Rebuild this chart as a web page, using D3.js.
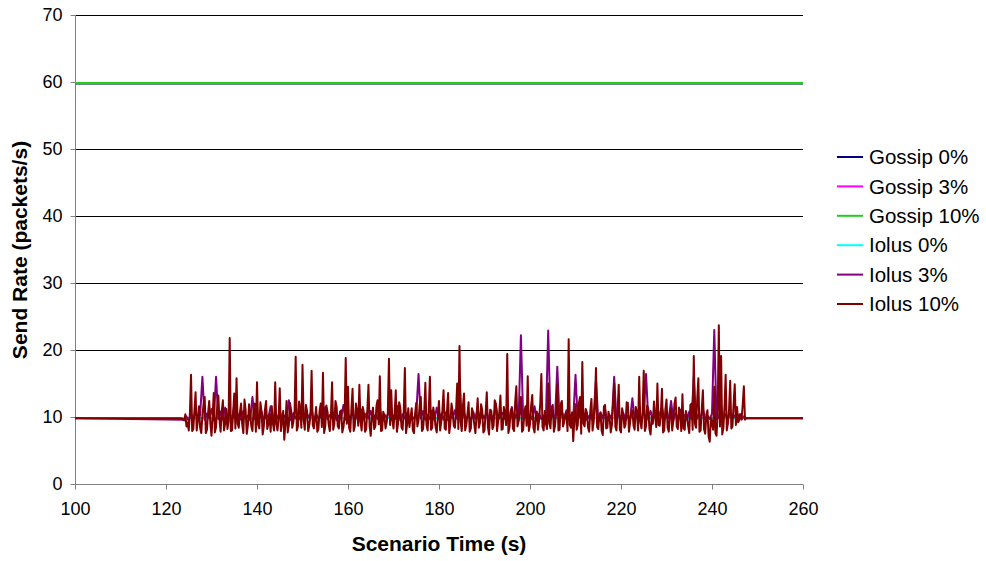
<!DOCTYPE html>
<html>
<head>
<meta charset="utf-8">
<script src="https://cdn.jsdelivr.net/npm/d3@7"></script>
<style>
  body { margin: 0; background: #fff; }
  svg { display: block; }
  text { font-family: Arial, "Liberation Sans", sans-serif; fill: #000; }
</style>
</head>
<body>
<svg id="chart" width="986" height="561"></svg>
<script>
// ---- data ----
const seriesNames  = ["Gossip 0%", "Gossip 3%", "Gossip 10%", "Iolus 0%", "Iolus 3%", "Iolus 10%"];
const seriesColors = ["#000080", "#ff00ff", "#1fcf1f", "#00ffff", "#800080", "#800000"];
const xTicks = [100, 120, 140, 160, 180, 200, 220, 240, 260];
const yTicks = [0, 10, 20, 30, 40, 50, 60, 70];

// Gossip runs hold a constant rate
const gossip0  = [[100, 59.8], [260, 59.8]];
const gossip3  = [[100, 59.8], [260, 59.8]];
const gossip10 = [[100, 59.8], [260, 59.8]];
const iolus0   = [[100, 9.85], [260, 9.85]];

// Iolus 3%: one sample every half second, t = 124 .. 247.5 (5 s per row)
const iolus3Start = 124, iolus3Step = 0.5;
const iolus3Samples = [
  9.6, 10.1, 9.4, 10.6, 9.5, 10.9, 9.7, 10.3, 16.0, 9.6,
  10.5, 9.8, 11.2, 9.5, 16.0, 9.7, 10.8, 9.6, 11.4, 9.9,
  10.6, 9.5, 11.8, 9.8, 10.4, 9.6, 10.9, 9.7, 10.2, 9.5,
  13.0, 9.7, 10.5, 9.8, 10.8, 9.5, 10.3, 9.9, 11.6, 9.6,
  10.4, 9.8, 10.9, 9.6, 10.2, 9.7, 12.5, 9.5, 10.6, 9.8,
  10.3, 9.6, 11.0, 9.7, 10.5, 9.9, 11.2, 9.5, 10.4, 9.8,
  10.1, 9.6, 11.5, 9.7, 10.3, 9.8, 10.7, 9.5, 10.2, 9.9,
  11.8, 9.6, 10.4, 9.8, 10.6, 9.5, 10.2, 9.7, 11.1, 9.6,
  10.5, 9.8, 10.9, 9.6, 10.3, 9.7, 11.3, 9.5, 10.4, 9.9,
  10.8, 9.6, 10.2, 9.7, 11.7, 9.5, 10.4, 9.8, 10.6, 9.6,
  10.2, 9.7, 10.5, 16.4, 9.8, 10.9, 9.6, 10.3, 9.7, 11.0,
  9.5, 11.4, 9.8, 10.5, 9.6, 10.7, 9.5, 10.1, 9.8, 11.0,
  9.7, 15.8, 9.6, 10.6, 9.8, 10.2, 9.5, 10.8, 9.7, 11.3,
  9.6, 10.4, 9.8, 10.8, 9.5, 10.3, 9.7, 11.9, 9.6, 10.2,
  10.6, 9.7, 10.2, 9.8, 11.5, 9.6, 10.4, 9.5, 22.2, 9.7,
  10.7, 9.8, 10.3, 9.6, 11.6, 9.5, 10.5, 9.7, 10.2, 9.8,
  22.9, 9.6, 10.4, 9.7, 17.5, 9.5, 10.8, 9.8, 11.0, 9.6,
  10.3, 9.7, 16.3, 9.5, 10.6, 9.8, 10.5, 9.6, 10.2, 9.7,
  10.4, 15.6, 9.6, 10.7, 9.8, 11.1, 9.5, 10.3, 9.7, 16.0,
  9.6, 10.5, 9.8, 10.6, 9.5, 10.2, 9.7, 12.8, 9.6, 10.4,
  10.1, 9.7, 10.6, 16.4, 9.6, 10.9, 9.8, 10.3, 9.7, 10.5,
  11.5, 9.6, 10.2, 9.8, 12.4, 9.5, 10.6, 9.7, 11.1, 9.8,
  10.3, 9.6, 10.8, 9.7, 16.0, 9.5, 10.4, 9.8, 11.3, 9.6,
  10.2, 9.7, 10.5, 23.0, 9.6, 10.0, 11.6, 9.8, 10.4, 9.7,
  10.6, 9.8, 10.2, 9.7, 10.4, 9.6, 10.1, 9.8
];

// Iolus 10%: one sample every quarter second, t = 123.5 .. 247.5 (5 s per row)
const iolus10Start = 123.5, iolus10Step = 0.25;
const iolus10Samples = [
  9.8, 9.6, 9.5, 10.4, 8.6, 9.2, 8.0, 10.5, 16.3, 7.9, 8.2, 11.0, 13.7, 8.0, 9.5, 11.6, 8.4, 7.6, 10.2, 11.8,
  13.0, 7.6, 8.1, 10.6, 12.4, 9.0, 7.2, 10.2, 13.6, 7.7, 8.5, 11.4, 13.2, 9.6, 7.8, 10.8, 12.5, 8.0, 9.0, 11.2,
  8.2, 9.4, 21.8, 7.9, 8.0, 10.4, 13.5, 8.3, 15.8, 9.0, 8.4, 10.7, 12.0, 8.9, 7.6, 12.6, 11.0, 7.5, 8.8, 11.9,
  10.5, 8.6, 7.9, 11.3, 12.0, 7.8, 15.2, 8.8, 8.3, 12.2, 10.8, 7.4, 8.6, 11.1, 12.4, 8.2, 9.0, 10.4, 7.8, 11.6,
  9.0, 8.0, 15.2, 8.9, 8.0, 9.8, 14.3, 7.9, 9.4, 10.9, 6.6, 9.1, 12.4, 7.7, 8.8, 12.1, 11.0, 8.4, 9.3, 10.6,
  19.0, 8.0, 8.6, 12.3, 11.2, 8.4, 17.8, 9.6, 8.1, 11.8, 10.9, 7.9, 8.8, 10.2, 16.9, 8.8, 8.3, 9.7, 11.5, 7.8,
  8.2, 10.9, 12.0, 8.5, 16.6, 7.6, 8.6, 11.7, 10.8, 8.9, 7.9, 10.3, 15.2, 8.1, 9.0, 12.4, 11.5, 8.6, 8.3, 10.8,
  11.0, 7.7, 8.5, 10.1, 18.8, 9.0, 14.5, 8.4, 7.8, 11.2, 14.2, 7.9, 8.6, 12.0, 10.9, 8.7, 14.8, 9.3, 8.0, 11.5,
  10.6, 7.8, 8.2, 11.1, 14.8, 8.6, 7.2, 10.0, 11.4, 8.2, 8.6, 11.6, 12.5, 8.9, 16.1, 7.9, 8.0, 10.8, 10.1, 8.3,
  9.2, 10.7, 18.7, 8.8, 14.0, 9.5, 8.3, 10.6, 14.0, 7.8, 9.0, 12.2, 11.4, 8.5, 8.1, 10.9, 17.3, 7.6, 8.9, 11.3,
  8.5, 9.9, 11.3, 8.0, 7.6, 10.5, 12.1, 8.6, 9.5, 11.8, 13.0, 7.9, 8.2, 10.6, 15.1, 8.8, 8.0, 11.0, 16.0, 8.1,
  8.4, 11.4, 10.2, 8.5, 7.7, 10.1, 12.4, 8.0, 9.3, 11.0, 14.0, 8.3, 8.1, 10.8, 13.6, 7.6, 9.0, 12.0, 10.8, 8.7,
  8.4, 10.9, 15.0, 8.2, 20.6, 9.3, 7.9, 11.6, 13.5, 8.0, 8.8, 10.4, 12.2, 7.8, 8.3, 11.3, 10.5, 8.9, 7.6, 10.2,
  12.8, 8.4, 9.1, 11.9, 11.0, 7.7, 8.0, 10.6, 13.7, 8.5, 7.4, 11.1, 10.9, 8.2, 8.7, 12.5, 12.0, 7.9, 9.3, 10.7,
  13.2, 8.1, 8.2, 11.5, 10.5, 8.8, 19.4, 7.6, 8.5, 10.9, 11.3, 8.3, 7.9, 12.3, 14.6, 8.6, 9.4, 11.0, 13.0, 7.8,
  8.1, 10.5, 11.6, 8.7, 16.1, 7.9, 8.9, 11.7, 13.3, 8.4, 7.7, 10.3, 10.8, 8.1, 9.6, 12.0, 16.4, 8.5, 8.0, 10.9,
  9.0, 8.2, 15.0, 9.1, 8.3, 11.5, 11.8, 7.8, 8.7, 10.6, 14.9, 8.0, 8.1, 11.9, 12.4, 8.6, 9.2, 10.3, 10.6, 7.9,
  21.6, 8.8, 8.4, 10.7, 6.4, 9.6, 11.9, 8.1, 8.8, 12.1, 13.0, 7.5, 18.2, 9.0, 8.6, 11.2, 10.7, 8.4, 7.8, 10.9,
  12.7, 8.0, 9.3, 11.4, 17.3, 8.5, 8.2, 10.2, 10.6, 7.9, 7.3, 11.6, 11.8, 8.3, 8.4, 10.8, 9.9, 7.7, 8.8, 12.0,
  15.0, 8.6, 8.0, 10.9, 14.8, 8.1, 7.7, 11.3, 10.4, 8.4, 8.9, 12.2, 12.1, 7.8, 9.2, 10.6, 11.0, 8.7, 8.1, 11.5,
  10.7, 8.0, 16.0, 9.2, 8.3, 10.8, 16.9, 7.9, 8.6, 11.7, 11.2, 8.2, 7.4, 10.1, 9.0, 12.3, 10.1, 8.5, 15.0, 8.8,
  8.7, 10.4, 14.2, 7.7, 8.0, 11.1, 12.6, 8.4, 7.8, 10.7, 11.3, 8.0, 9.4, 12.0, 12.9, 8.6, 8.2, 11.4, 10.5, 7.9,
  13.4, 8.3, 8.1, 10.9, 10.2, 8.7, 7.6, 11.8, 12.0, 8.1, 19.1, 9.0, 8.4, 12.6, 15.8, 7.8, 8.0, 11.2, 14.0, 8.2,
  7.5, 10.3, 11.0, 7.1, 6.3, 9.9, 9.0, 8.1, 14.5, 7.6, 7.2, 10.8, 23.7, 8.6, 19.1, 7.4, 8.3, 11.6, 16.3, 8.0,
  9.0, 11.2, 15.4, 8.3, 8.6, 12.0, 14.9, 8.8, 11.5, 9.2, 9.5, 10.4, 9.7, 11.8, 14.6, 9.6, 9.8
];
const idleRate = 9.8; // Iolus rate outside the rekeying burst

// ---- build series (time, value) ----
function sampled(start, step, values) {
  return values.map((v, i) => [start + i * step, v]);
}
const iolus3 = [[100, idleRate], ...sampled(iolus3Start, iolus3Step, iolus3Samples), [260, idleRate]];
const iolus10 = [[100, idleRate], ...sampled(iolus10Start, iolus10Step, iolus10Samples), [260, idleRate]];
const seriesData = [gossip0, gossip3, gossip10, iolus0, iolus3, iolus10];

// ---- layout ----
const svg = d3.select("#chart");
const plot = { left: 75, right: 803, top: 15, bottom: 484 };

const x = d3.scaleLinear().domain([100, 260]).range([plot.left, plot.right]);
const y = d3.scaleLinear().domain([0, 70]).range([plot.bottom, plot.top]);

// horizontal gridlines
svg.append("g")
  .selectAll("line")
  .data(yTicks.filter(t => t > 0))
  .join("line")
  .attr("x1", plot.left).attr("x2", plot.right)
  .attr("y1", d => Math.round(y(d)) + 0.5).attr("y2", d => Math.round(y(d)) + 0.5)
  .attr("stroke", "#000").attr("stroke-width", 1);

// axes
const yAxis = svg.append("g")
  .attr("transform", `translate(${plot.left + 0.5},0)`)
  .call(d3.axisLeft(y).tickValues(yTicks).tickSize(5).tickPadding(8).tickFormat(d3.format("d")));
const xAxis = svg.append("g")
  .attr("transform", `translate(0,${plot.bottom + 0.5})`)
  .call(d3.axisBottom(x).tickValues(xTicks).tickSize(5).tickPadding(13).tickFormat(d3.format("d")));

[yAxis, xAxis].forEach(g => {
  g.select(".domain").attr("stroke", "#808080").attr("stroke-width", 1);
  g.selectAll(".tick line").attr("stroke", "#808080");
  g.selectAll(".tick text").attr("font-size", 18).attr("fill", "#000")
    .style("font-family", "Arial, 'Liberation Sans', sans-serif");
});
yAxis.select(".domain").attr("d", `M0,${plot.top}V${plot.bottom}`);
xAxis.select(".domain").attr("d", `M${plot.left},0H${plot.right}`);

// series lines
const line = d3.line().x(d => x(d[0])).y(d => y(d[1]));
svg.append("g")
  .selectAll("path")
  .data(seriesData)
  .join("path")
  .attr("d", line)
  .attr("fill", "none")
  .attr("stroke", (d, i) => seriesColors[i])
  .attr("stroke-width", (d, i) => i < 3 ? 2.5 : 2)
  .attr("stroke-linejoin", "round");

// axis titles
svg.append("text")
  .attr("x", 439).attr("y", 551)
  .attr("text-anchor", "middle")
  .attr("font-size", 21).attr("font-weight", "bold")
  .text("Scenario Time (s)");
svg.append("text")
  .attr("transform", `translate(27,250) rotate(-90)`)
  .attr("text-anchor", "middle")
  .attr("font-size", 21).attr("font-weight", "bold")
  .text("Send Rate (packets/s)");

// legend
const legend = svg.append("g").attr("transform", "translate(837,157)");
const rows = legend.selectAll("g")
  .data(seriesNames)
  .join("g")
  .attr("transform", (d, i) => `translate(0,${i * 29.4})`);
rows.append("line")
  .attr("x1", 0).attr("x2", 26).attr("y1", 0).attr("y2", 0)
  .attr("stroke", (d, i) => seriesColors[i]).attr("stroke-width", 2);
rows.append("text")
  .attr("x", 32).attr("y", 0).attr("dy", "0.35em")
  .attr("font-size", 20.5)
  .text(d => d);
</script>
</body>
</html>
